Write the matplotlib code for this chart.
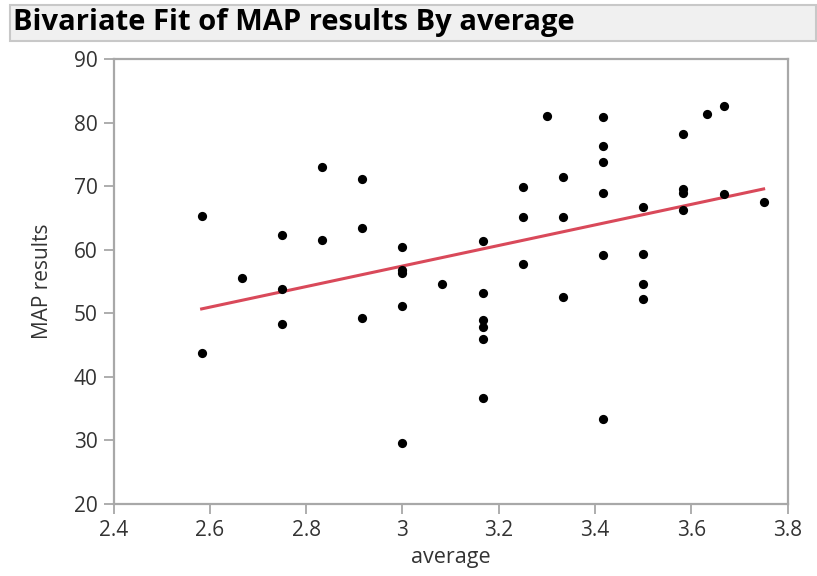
import numpy as np
import matplotlib
matplotlib.use("Agg")
import matplotlib.pyplot as plt
from matplotlib.patches import Rectangle

# --- data ---
average = [2.583, 2.583, 2.667, 2.75, 2.75, 2.75, 2.833, 2.833,
           2.917, 2.917, 2.917, 3.0, 3.0, 3.0, 3.0, 3.0, 3.083,
           3.167, 3.167, 3.167, 3.167, 3.167, 3.167,
           3.25, 3.25, 3.25, 3.3, 3.333, 3.333, 3.333,
           3.417, 3.417, 3.417, 3.417, 3.417, 3.417,
           3.5, 3.5, 3.5, 3.5,
           3.583, 3.583, 3.583, 3.583, 3.633, 3.667, 3.667, 3.75]
map_results = [65.4, 43.8, 55.6, 62.4, 53.8, 48.3, 73.1, 61.5,
               71.1, 63.4, 49.3, 60.4, 56.9, 56.4, 51.1, 29.6, 54.6,
               61.4, 53.2, 49.0, 47.8, 45.9, 36.7,
               69.9, 65.2, 57.8, 81.1, 71.4, 65.2, 52.6,
               80.9, 76.3, 73.8, 68.9, 59.2, 33.4,
               66.7, 59.4, 54.6, 52.2,
               78.3, 69.6, 69.0, 66.2, 81.4, 82.7, 68.8, 67.5]

x_ticks = [2.4, 2.6, 2.8, 3.0, 3.2, 3.4, 3.6, 3.8]
x_tick_labels = ["2.4", "2.6", "2.8", "3", "3.2", "3.4", "3.6", "3.8"]
y_ticks = [20, 30, 40, 50, 60, 70, 80, 90]

plt.rcParams['font.family'] = ['Open Sans', 'DejaVu Sans']

x = np.array(average)
y = np.array(map_results)
slope, intercept = np.polyfit(x, y, 1)
x_fit = np.array([x.min(), x.max()])
y_fit = intercept + slope * x_fit

W, H = 817, 576
fig = plt.figure(figsize=(W / 100, H / 100), dpi=100)

# title bar
fig.patches.append(Rectangle((10 / W, 1 - 40.5 / H), (816 - 10) / W, 35.5 / H,
                             transform=fig.transFigure, facecolor='#f0f0f0',
                             edgecolor='#c8c8c8', linewidth=1.5))
fig.text(13 / W, 1 - 22.5 / H, "Bivariate Fit of MAP results By average",
         fontsize=21, fontweight='bold', va='center', ha='left', color='black')

ax = fig.add_axes([113.5 / W, 1 - 504 / H, (787.7 - 113.5) / W, (504 - 59.3) / H])
ax.scatter(x, y, s=44, color='black', zorder=3, linewidths=0)
ax.plot(x_fit, y_fit, color='#d9495a', linewidth=2.2, zorder=2)

ax.set_xlim(2.4, 3.8)
ax.set_ylim(20, 90)
ax.set_xticks(x_ticks)
ax.set_xticklabels(x_tick_labels)
ax.set_yticks(y_ticks)
ax.tick_params(direction='out', length=7.5, width=1.2, color='#a0a0a0',
               labelsize=15, labelcolor='#333333', pad=4)
for sp in ax.spines.values():
    sp.set_color('#a8a8a8')
    sp.set_linewidth(1.6)

ax.set_xlabel("average", fontsize=15.5, color='#333333', labelpad=4)
ax.set_ylabel("MAP results", fontsize=15, color='#333333', labelpad=15)

fig.savefig("out.png", dpi=100)
